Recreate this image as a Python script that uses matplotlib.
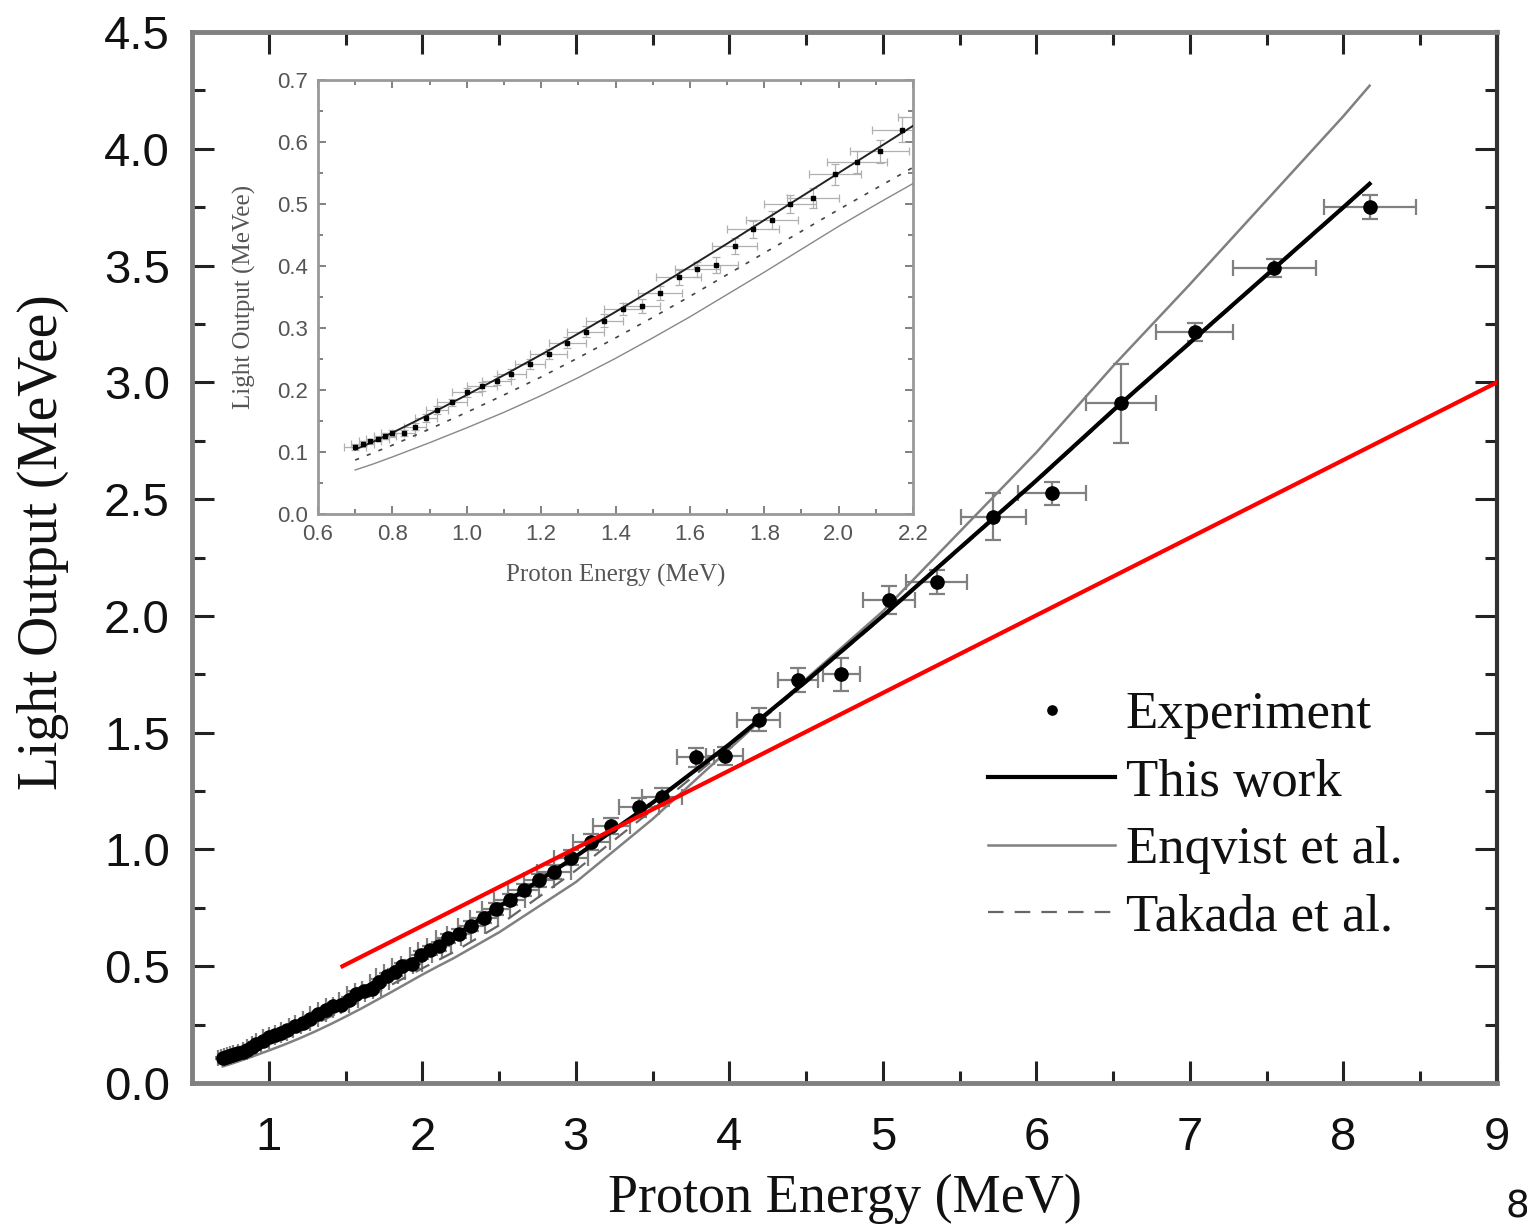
import matplotlib
matplotlib.use("Agg")
import matplotlib.pyplot as plt
from matplotlib.ticker import MultipleLocator, FormatStrFormatter

# ---------------- data ----------------
curve_energy = [0.70, 0.75, 0.80, 0.90, 1.00, 1.10, 1.20, 1.30, 1.40, 1.50, 1.60, 1.70,
                1.80, 1.90, 2.00, 2.10, 2.20, 2.50, 3.00, 3.50, 4.00, 4.50, 5.00, 5.50,
                6.00, 6.50, 7.00, 7.50, 8.00, 8.17]
this_work = [0.104, 0.117, 0.131, 0.161, 0.192, 0.224, 0.257, 0.291, 0.326, 0.362, 0.399, 0.436,
             0.474, 0.512, 0.550, 0.588, 0.626, 0.755, 0.970, 1.200, 1.450, 1.720, 2.000, 2.290,
             2.580, 2.880, 3.170, 3.460, 3.750, 3.850]
enqvist = [0.071, 0.081, 0.092, 0.115, 0.139, 0.164, 0.191, 0.220, 0.251, 0.284, 0.318, 0.354,
           0.390, 0.427, 0.464, 0.499, 0.533, 0.645, 0.860, 1.130, 1.430, 1.730, 2.020, 2.360,
           2.700, 3.070, 3.420, 3.780, 4.140, 4.270]
takada = [0.087, 0.099, 0.111, 0.137, 0.164, 0.192, 0.221, 0.252, 0.284, 0.317, 0.351, 0.386,
          0.421, 0.456, 0.491, 0.525, 0.559, 0.675, 0.910, 1.170, 1.440, 1.715, 1.995, 2.285,
          2.575, 2.875, 3.165, 3.455, 3.745, 3.845]

exp_energy = [0.70, 0.72, 0.74, 0.76, 0.78, 0.80, 0.83, 0.86, 0.89, 0.92, 0.96, 1.00, 1.04,
              1.08, 1.12, 1.17, 1.22, 1.27, 1.32, 1.37, 1.42, 1.47, 1.52, 1.57, 1.62, 1.67,
              1.72, 1.77, 1.82, 1.87, 1.93, 1.99, 2.05, 2.11, 2.17, 2.24, 2.32, 2.40, 2.48,
              2.57, 2.66, 2.76, 2.86, 2.97, 3.10, 3.23, 3.41, 3.56, 3.78, 3.97, 4.19, 4.45,
              4.73, 5.04, 5.35, 5.72, 6.10, 6.55, 7.03, 7.55, 8.17]
exp_light = [0.108, 0.113, 0.117, 0.121, 0.126, 0.130, 0.131, 0.141, 0.155, 0.168, 0.180, 0.196,
             0.206, 0.215, 0.226, 0.242, 0.258, 0.276, 0.294, 0.312, 0.331, 0.336, 0.356, 0.382,
             0.395, 0.401, 0.432, 0.459, 0.474, 0.500, 0.510, 0.548, 0.568, 0.585, 0.620, 0.640,
             0.672, 0.708, 0.745, 0.785, 0.825, 0.868, 0.905, 0.965, 1.030, 1.100, 1.180, 1.225,
             1.395, 1.400, 1.555, 1.725, 1.750, 2.070, 2.145, 2.425, 2.525, 2.910, 3.215, 3.490,
             3.750]
exp_xerr = [0.03, 0.03, 0.03, 0.03, 0.03, 0.03, 0.03, 0.03, 0.03, 0.03, 0.04, 0.04, 0.04,
            0.04, 0.04, 0.04, 0.05, 0.05, 0.05, 0.05, 0.05, 0.05, 0.06, 0.06, 0.06, 0.06,
            0.06, 0.07, 0.07, 0.07, 0.07, 0.07, 0.08, 0.08, 0.08, 0.08, 0.09, 0.09, 0.09,
            0.10, 0.10, 0.10, 0.11, 0.11, 0.12, 0.12, 0.13, 0.13, 0.12, 0.12, 0.14, 0.13,
            0.12, 0.17, 0.20, 0.21, 0.22, 0.23, 0.25, 0.27, 0.30]
exp_yerr = [0.004, 0.004, 0.004, 0.004, 0.005, 0.005, 0.005, 0.005, 0.006, 0.006, 0.006, 0.007,
            0.007, 0.007, 0.008, 0.008, 0.008, 0.009, 0.009, 0.010, 0.010, 0.011, 0.011, 0.012,
            0.012, 0.013, 0.013, 0.014, 0.015, 0.015, 0.016, 0.017, 0.018, 0.019, 0.020, 0.021,
            0.022, 0.023, 0.024, 0.025, 0.026, 0.028, 0.030, 0.032, 0.034, 0.036, 0.04, 0.04,
            0.04, 0.04, 0.05, 0.05, 0.07, 0.06, 0.05, 0.10, 0.05, 0.17, 0.04, 0.04, 0.05]

red_energy = [1.48, 9.0]
red_light = [0.50, 3.00]

legend_labels = ["Experiment", "This work", "Enqvist et al.", "Takada et al."]

# ---------------- figure ----------------
SERIF = ["Liberation Serif", "DejaVu Serif"]
SANS = ["Liberation Sans", "DejaVu Sans"]

fig = plt.figure(figsize=(15.27, 12.27), dpi=100)
ax = fig.add_axes([192 / 1527, 1 - 1083 / 1227, 1305 / 1527, 1051 / 1227])

gray = "#808080"
ax.errorbar(exp_energy, exp_light, xerr=exp_xerr, yerr=exp_yerr, fmt="none",
            ecolor=gray, elinewidth=1.6, capsize=6, capthick=1.6, zorder=2)
ax.plot(curve_energy, enqvist, color=gray, lw=1.8, zorder=3, label=legend_labels[2])
ax.plot(curve_energy, takada, color="#666666", lw=1.6, dashes=(7, 5), zorder=3,
        label=legend_labels[3])
ax.plot(curve_energy, this_work, color="black", lw=3.0, zorder=4, label=legend_labels[1])
ax.plot(exp_energy, exp_light, "o", color="black", ms=9.5, zorder=5, label=legend_labels[0],
        linestyle="none")
ax.plot(red_energy, red_light, color="#ff0000", lw=3.0, zorder=6)

ax.set_xlim(0.5, 9.0)
ax.set_ylim(0.0, 4.5)
ax.xaxis.set_major_locator(MultipleLocator(1))
ax.xaxis.set_minor_locator(MultipleLocator(0.5))
ax.yaxis.set_major_locator(MultipleLocator(0.5))
ax.yaxis.set_minor_locator(MultipleLocator(0.25))
ax.set_xticks([1, 2, 3, 4, 5, 6, 7, 8, 9])
ax.yaxis.set_major_formatter(FormatStrFormatter("%.1f"))

ax.tick_params(which="both", direction="in", top=True, right=True, color="#222222",
               width=2.2)
ax.tick_params(which="major", length=16)
ax.tick_params(which="minor", length=9)
ax.tick_params(axis="x", which="major", pad=24)
ax.tick_params(axis="y", which="major", pad=16)
for lab in ax.get_xticklabels() + ax.get_yticklabels():
    lab.set_fontfamily(SANS)
    lab.set_fontsize(34)
    lab.set_color("#111111")

for side in ["left", "bottom", "top"]:
    ax.spines[side].set_color(gray)
    ax.spines[side].set_linewidth(3.5)
ax.spines["right"].set_color("#333333")
ax.spines["right"].set_linewidth(3.0)

ax.set_xlabel("Proton Energy (MeV)", fontsize=39, fontfamily=SERIF, color="#111111")
ax.set_ylabel("Light Output (MeVee)", fontsize=40, fontfamily=SERIF, color="#111111")
ax.xaxis.set_label_coords(0.5, -0.086)
ax.yaxis.set_label_coords(-0.094, 0.515)

handles, labels = ax.get_legend_handles_labels()
order = [labels.index(l) for l in legend_labels]
leg = ax.legend([handles[i] for i in order], [labels[i] for i in order],
                loc="upper left", bbox_to_anchor=(0.590, 0.398), frameon=False,
                prop={"family": SERIF, "size": 38}, handlelength=2.4,
                handletextpad=0.2, labelspacing=0.37, borderpad=0, markerscale=0.7)
for t in leg.get_texts():
    t.set_color("#111111")

# ---------------- inset ----------------
ins = fig.add_axes([318 / 1527, 1 - 514 / 1227, 595 / 1527, 434 / 1227])
ins.errorbar(exp_energy, exp_light, xerr=exp_xerr, yerr=exp_yerr, fmt="none",
             ecolor="#b0b0b0", elinewidth=0.9, capsize=3, capthick=0.9, zorder=2)
ins.plot(curve_energy, enqvist, color="#888888", lw=1.0, zorder=3)
ins.plot(curve_energy, takada, color="#444444", lw=1.2, dashes=(2.5, 5), zorder=3)
ins.plot(curve_energy, this_work, color="#222222", lw=1.4, zorder=4)
ins.plot(exp_energy, exp_light, "s", color="black", ms=3.4, zorder=5, linestyle="none")
ins.set_xlim(0.6, 2.2)
ins.set_ylim(0.0, 0.7)
ins.xaxis.set_major_locator(MultipleLocator(0.2))
ins.xaxis.set_minor_locator(MultipleLocator(0.1))
ins.yaxis.set_major_locator(MultipleLocator(0.1))
ins.yaxis.set_minor_locator(MultipleLocator(0.05))
ins.xaxis.set_major_formatter(FormatStrFormatter("%.1f"))
ins.yaxis.set_major_formatter(FormatStrFormatter("%.1f"))
ins.tick_params(which="both", direction="in", top=True, right=True, color="#777777",
                width=1.3, labelsize=16, labelcolor="#555555", pad=7)
ins.tick_params(which="major", length=6)
ins.tick_params(which="minor", length=3.5)
for lab in ins.get_xticklabels() + ins.get_yticklabels():
    lab.set_fontfamily(SANS)
for s in ins.spines.values():
    s.set_color("#999999")
    s.set_linewidth(2.0)
ins.set_xlabel("Proton Energy (MeV)", fontsize=18, fontfamily=SERIF, color="#555555")
ins.set_ylabel("Light Output (MeVee)", fontsize=18, fontfamily=SERIF, color="#555555")
ins.xaxis.set_label_coords(0.5, -0.115)
ins.yaxis.set_label_coords(-0.105, 0.5)

fig.text(1506 / 1527, 1 - 1218 / 1227, "8", fontsize=27, fontfamily="DejaVu Sans",
         ha="left", va="baseline", color="#111111")

fig.savefig("out.png", dpi=100)
